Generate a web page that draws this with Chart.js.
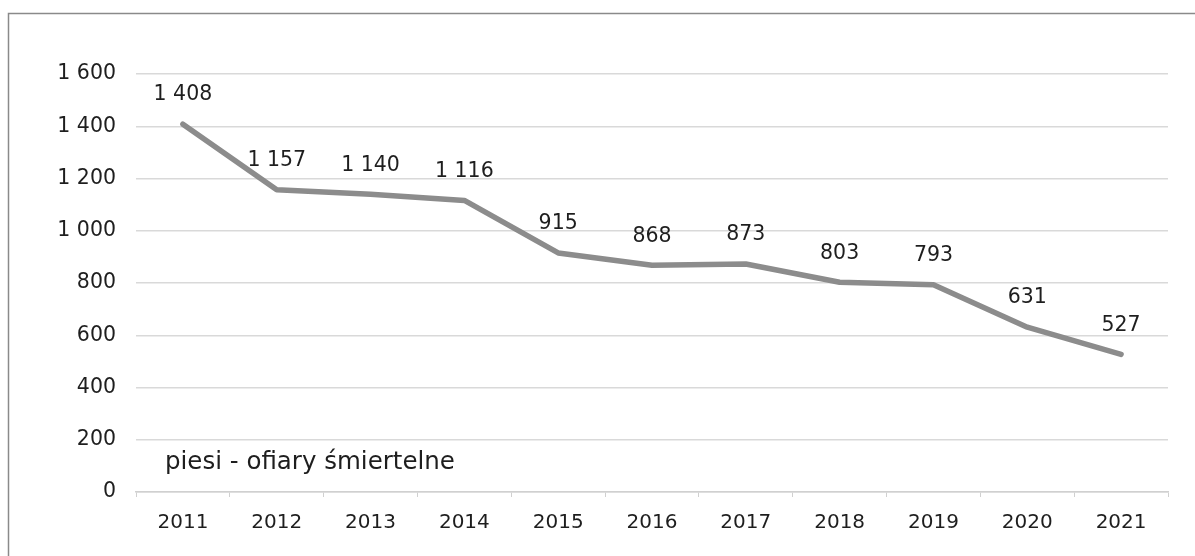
<!DOCTYPE html>
<html>
<head>
<meta charset="utf-8">
<script src="https://cdn.jsdelivr.net/npm/chart.js@4.4.1/dist/chart.umd.min.js"></script>
<style>
html,body{margin:0;padding:0;background:#fff;}
#wrap{position:relative;width:1195px;height:556px;}
</style>
</head>
<body>
<div id="wrap"><canvas id="c" width="1195" height="556"></canvas></div>
<script>
const years = ['2011','2012','2013','2014','2015','2016','2017','2018','2019','2020','2021'];
const fatalities = [1408,1157,1140,1116,915,868,873,803,793,631,527];
const seriesName = 'piesi - ofiary śmiertelne';
const yTicks = [0,200,400,600,800,1000,1200,1400,1600];

const FONT = 'DejaVu Sans, Verdana, sans-serif';
const TEXT = '#1e1e1e';

function fmt(v){ return String(v).replace(/\B(?=(\d{3})+(?!\d))/g, ' '); }

const decor = {
  id:'decor',
  beforeDraw(chart){
    const ctx = chart.ctx;
    ctx.save();
    ctx.fillStyle = '#fff';
    ctx.fillRect(0,0,chart.width,chart.height);
    ctx.strokeStyle = '#8a8a8a';
    ctx.lineWidth = 1.5;
    ctx.beginPath();
    ctx.moveTo(8.5, chart.height+5);
    ctx.lineTo(8.5, 13.5);
    ctx.lineTo(chart.width+5, 13.5);
    ctx.stroke();
    ctx.restore();
  },
  afterDatasetsDraw(chart){
    const ctx = chart.ctx;
    const meta = chart.getDatasetMeta(0);
    const ys = chart.scales.y;
    ctx.save();
    ctx.font = '20.5px ' + FONT;
    ctx.fillStyle = TEXT;
    ctx.textAlign = 'center';
    ctx.textBaseline = 'middle';
    meta.data.forEach((pt,i)=>{
      ctx.fillText(fmt(fatalities[i]), pt.x, pt.y - 29);
    });
    // series name label inside plot
    ctx.textAlign = 'left';
    ctx.font = '24.5px ' + FONT;
    ctx.fillText(seriesName, chart.chartArea.left + 29, ys.getPixelForValue(112));
    ctx.restore();
  }
};

new Chart(document.getElementById('c'), {
  type:'line',
  data:{
    labels: years,
    datasets:[{
      label: seriesName,
      data: fatalities,
      borderColor:'#8c8c8c',
      borderWidth:5.5,
      pointRadius:0,
      tension:0,
      borderCapStyle:'round',
      borderJoinStyle:'round',
      fill:false
    }]
  },
  options:{
    responsive:false,
    animation:false,
    devicePixelRatio:1,
    layout:{padding:{left:0,top:74,right:27,bottom:0}},
    plugins:{legend:{display:false},tooltip:{enabled:false}},
    scales:{
      x:{
        offset:true,
        grid:{drawOnChartArea:false, drawTicks:true, tickLength:5, color:'#d0d0d0', offset:true},
        border:{display:true, color:'#d0d0d0', width:1.5},
        ticks:{color:TEXT, font:{family:FONT,size:20}, padding:14, maxRotation:0, autoSkip:false},
        afterFit(s){ s.height = 64; }
      },
      y:{
        min:0, max:1600,
        afterBuildTicks(s){ s.ticks = yTicks.map(v=>({value:v})); },
        grid:{color:'#d9d9d9', lineWidth:1.5, drawTicks:false},
        border:{display:false},
        ticks:{color:TEXT, font:{family:FONT,size:20.5}, padding:20, callback:(v)=>fmt(v)},
        afterFit(s){ s.width = 136; }
      }
    }
  },
  plugins:[decor]
});
</script>
</body>
</html>
